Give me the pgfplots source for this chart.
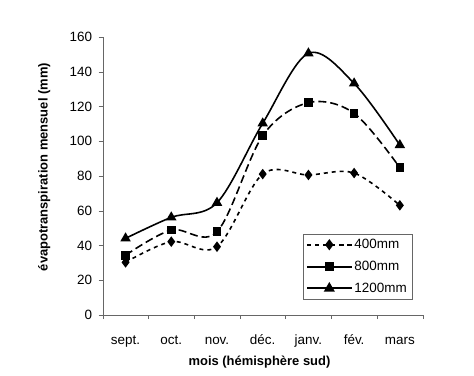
\documentclass[border=0pt]{standalone}
\usepackage{fontspec}
\setmainfont{Liberation Sans}
\usepackage{pgfplots}
\pgfplotsset{compat=1.18}
\begin{document}
\begin{tikzpicture}
\useasboundingbox (0,0) rectangle (474bp,376bp);
\begin{axis}[
  at={(102.7bp,61bp)}, anchor=south west,
  scale only axis, width=320bp, height=278bp,
  xmin=-0.5, xmax=6.5, ymin=0, ymax=160,
  axis lines=left, axis line style={draw=gray!80!black, -},
  xtick={0,...,6},
  xticklabels={sept.,oct.,nov.,déc.,janv.,fév.,mars},
  major x tick style={draw=none},
  minor xtick={-0.5,0.5,...,6.5},
  minor x tick style={draw=gray!80!black},
  ytick={0,20,...,160},
  ytick style={draw=gray!80!black},
  tick align=outside, major tick length=4bp, minor tick length=4bp,
  /pgf/number format/assume math mode=true,
  tick label style={font=\fontsize{13.5}{15}\selectfont},
  xticklabel style={anchor=base, yshift=-25bp},
  yticklabel style={xshift=-3bp},
  xlabel={mois (hémisphère sud)},
  ylabel={évapotranspiration mensuel (mm)},
  xlabel style={at={(axis description cs:0.49,-0.169)}, anchor=center, font=\fontsize{13}{15}\selectfont\bfseries},
  ylabel style={at={(axis description cs:-0.183,0.532)}, anchor=center, font=\fontsize{13}{15}\selectfont\bfseries},
  legend style={at={(0.626,0.291)}, anchor=north west, draw=gray!80!black,
    font=\fontsize{13.5}{15}\selectfont, row sep=7bp, inner sep=3bp},
  legend image code/.code={
    \draw[mark repeat=2,mark phase=2,#1,line width=2pt] plot coordinates {(0cm,0cm) (0.78cm,0cm) (1.56cm,0cm)};},
  legend cell align=left,
  every axis plot/.append style={black, line width=1.6pt, smooth, tension=0.55},
]
\addplot[dash pattern=on 4pt off 4pt, mark=diamond*, mark size=4bp, mark options={solid}] coordinates {
  (0,30.3) (1,42.2) (2,39.3) (3,81.1) (4,80.6) (5,81.7) (6,63.1)};
\addlegendentry{400mm}
\addplot[dash pattern=on 8pt off 4pt, mark=square*, mark size=3.5bp, mark options={solid}, legend image post style={solid}] coordinates {
  (0,34.4) (1,48.9) (2,47.9) (3,103.2) (4,122.2) (5,116.1) (6,84.8)};
\addlegendentry{800mm}
\addplot[solid, mark=triangle*, mark size=4.5bp] coordinates {
  (0,44.1) (1,56.2) (2,64.6) (3,110.3) (4,150.6) (5,133.3) (6,97.8)};
\addlegendentry{1200mm}
\end{axis}
\end{tikzpicture}
\end{document}
